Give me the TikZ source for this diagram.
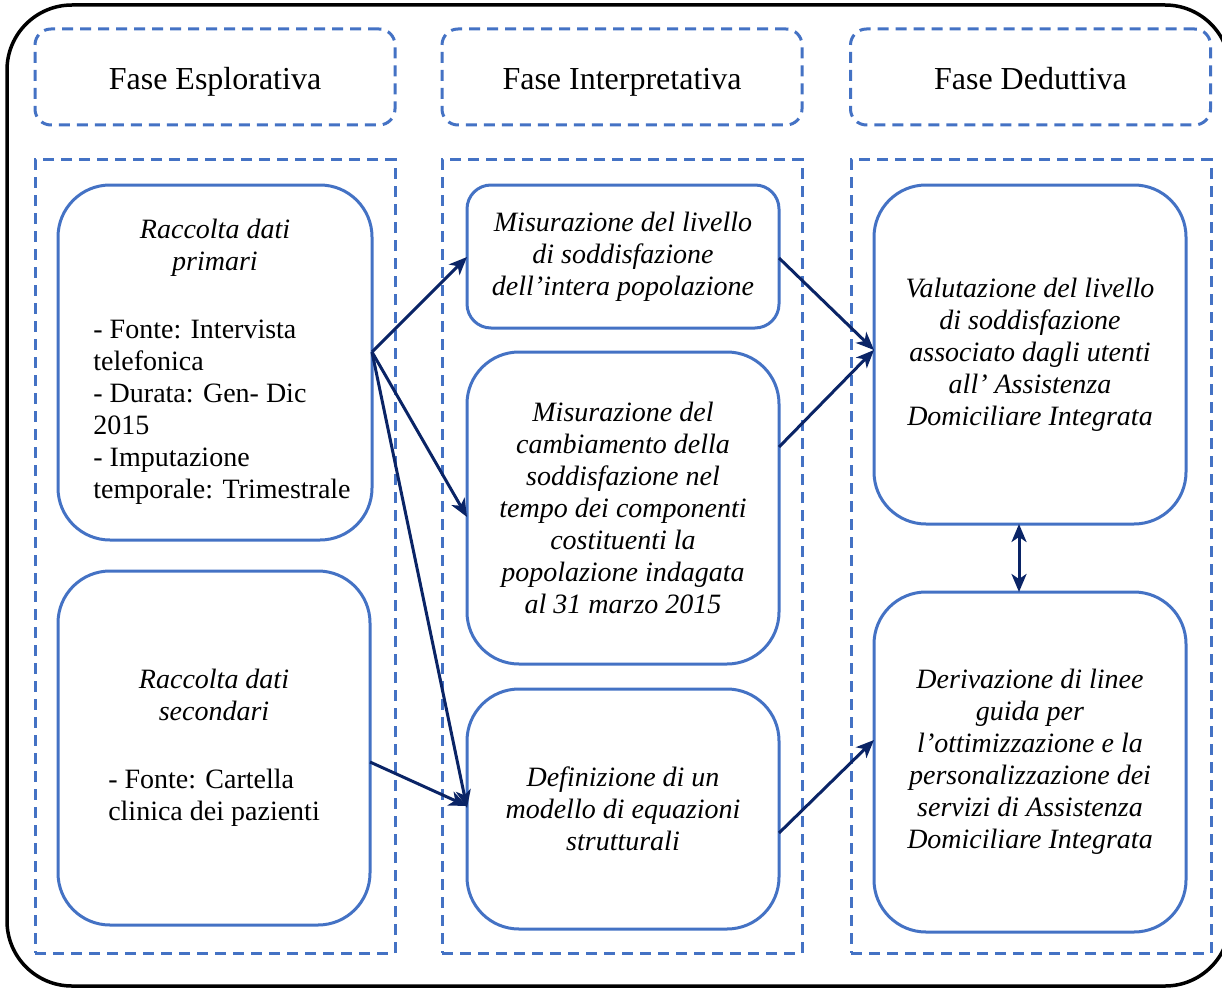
\documentclass[tikz,border=0pt]{standalone}
\usepackage{fontspec}
\setmainfont{Liberation Serif}
\usetikzlibrary{arrows.meta,calc}
\definecolor{boxblue}{HTML}{4472C4}
\definecolor{arrownavy}{HTML}{0A2466}

\begin{document}
\begin{tikzpicture}[x=1pt,y=-1pt,
  dashedline/.style={draw=boxblue, line width=3pt, dash pattern=on 11pt off 7pt},
  phasebox/.style={dashedline, rounded corners=16pt, minimum width=360pt,
    minimum height=96pt, inner sep=0pt, outer sep=0pt,
    text height=26pt, text depth=0pt,
    font=\fontsize{32}{38}\selectfont},
  column/.style={dashedline, minimum width=360pt, minimum height=793pt,
    inner sep=0pt, outer sep=0pt},
  stepbox/.style={draw=boxblue, line width=3pt, rounded corners=52pt,
    minimum width=312pt, inner sep=0pt, outer sep=0pt, align=center,
    font=\fontsize{28}{32}\selectfont\itshape},
  link/.style={draw=arrownavy, line width=3pt, -{Stealth[length=18pt,width=15pt,inset=5pt]}},
  twoway/.style={draw=arrownavy, line width=3pt,
    {Stealth[length=18pt,width=15pt,inset=5pt]}-{Stealth[length=18pt,width=15pt,inset=5pt]}},
]
\useasboundingbox (0,0) rectangle (1222,987);
\clip (0,0) rectangle (1222,987);

% outer frame
\draw[line width=3.5pt, rounded corners=65pt] (7,5) rectangle (1230,986);

% phase headers
\node[phasebox] (h1) at (215,77) {Fase Esplorativa};
\node[phasebox] (h2) at (622,77) {Fase Interpretativa};
\node[phasebox] (h3) at (1030.5,77) {Fase Deduttiva};

% dashed column frames
\node[column] (c1) at (215,556.5) {};
\node[column] (c2) at (622,556.5) {};
\node[column] (c3) at (1031,556.5) {};

% exploratory phase
\node[stepbox, minimum width=314pt, minimum height=355pt] (p1) at (215,362.5)
  {\upshape\begin{tabular}{@{\hspace{14pt}}l@{}}
   \multicolumn{1}{@{}c@{}}{\itshape Raccolta dati}\\
   \multicolumn{1}{@{}c@{}}{\itshape primari}\\
   \\[4pt]
   - Fonte: Intervista\\
   telefonica\\
   - Durata: Gen- Dic\\
   2015\\
   - Imputazione\\
   temporale: Trimestrale
  \end{tabular}};
\node[stepbox, minimum height=354pt] (p2) at (214,748)
  {\upshape\begin{tabular}{@{}l@{}}
   \multicolumn{1}{@{}c@{}}{\itshape Raccolta dati}\\
   \multicolumn{1}{@{}c@{}}{\itshape secondari}\\
   \\[4pt]
   - Fonte: Cartella\\
   clinica dei pazienti
  \end{tabular}};

% interpretative phase
\node[stepbox, rounded corners=24pt, minimum height=143pt] (m1) at (623,256.5)
  {Misurazione del livello\\di soddisfazione\\dell’intera popolazione};
\node[stepbox, minimum height=312pt] (m2) at (623,508)
  {Misurazione del\\cambiamento della\\soddisfazione nel\\tempo dei componenti\\costituenti la\\popolazione indagata\\al 31 marzo 2015};
\node[stepbox, minimum height=240pt] (m3) at (623,809)
  {Definizione di un\\modello di equazioni\\strutturali};

% deductive phase
\node[stepbox, minimum height=339pt] (d1) at (1030,354.5)
  {Valutazione del livello\\di soddisfazione\\associato dagli utenti\\all’ Assistenza\\Domiciliare Integrata};
\node[stepbox, minimum height=340pt] (d2) at (1030,762)
  {Derivazione di linee\\guida per\\l’ottimizzazione e la\\personalizzazione dei\\servizi di Assistenza\\Domiciliare Integrata};

% connectors
\coordinate (p1out) at ($(p1.east)+(0,-10.5)$);
\draw[link] (p1out) -- ($(m1.west)+(0,0.5)$);
\draw[link] (p1out) -- ($(m2.west)+(0,9)$);
\draw[link] (p1out) -- ($(m3.west)+(0,-1)$);
\draw[link] ($(p2.east)+(0,14)$) -- ($(m3.west)+(0,-3)$);
\draw[link] ($(m1.east)+(0,1.5)$) -- ($(d1.west)+(0,-4.5)$);
\draw[link] ($(m2.east)+(0,-61)$) -- ($(d1.west)+(0,-4.5)$);
\draw[link] ($(m3.east)+(0,24)$) -- ($(d2.west)+(0,-22)$);
\draw[twoway] ($(d1.south)+(-11,0)$) -- ($(d2.north)+(-11,0)$);
\end{tikzpicture}
\end{document}
